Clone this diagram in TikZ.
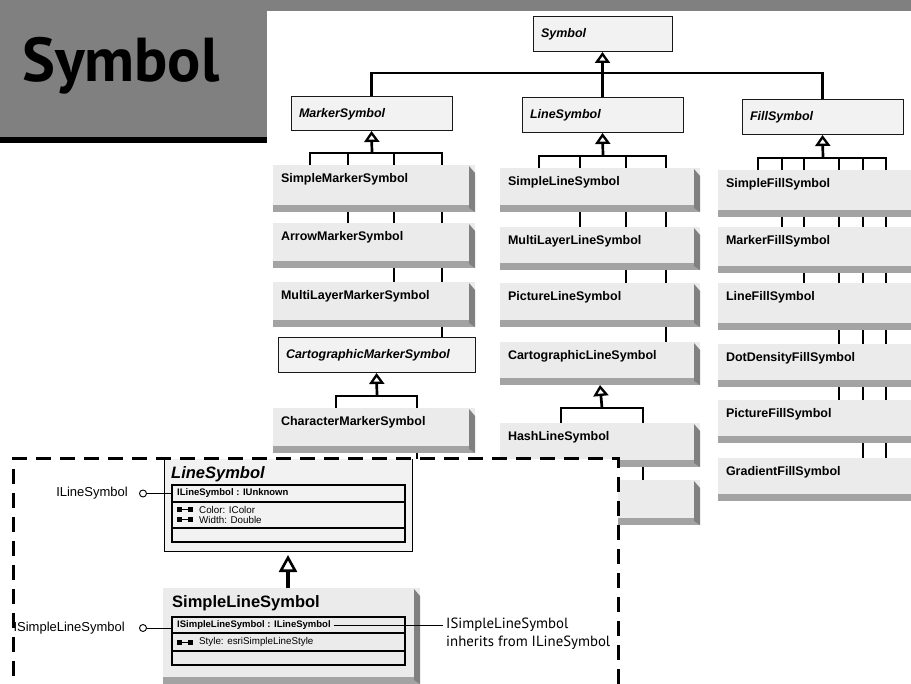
\documentclass[tikz,border=0pt]{standalone}
\usepackage{fontspec}
\setmainfont{Liberation Sans}
\newfontfamily\ptsans{PT Sans}
\usetikzlibrary{arrows.meta}
\pgfdeclarelayer{wires}
\pgfsetlayers{wires,main}
\definecolor{face}{gray}{0.92}
\definecolor{absface}{gray}{0.95}
\definecolor{bottomface}{gray}{0.64}
\definecolor{sideface}{gray}{0.50}
\definecolor{panel}{gray}{0.50}

\tikzset{
  tree/.style={line width=2.7pt, line cap=rect},
  inh/.style={line width=2.7pt, -{Triangle[open, length=11pt, width=15pt, line width=2.3pt]}},
  shade3d/.style={path picture={
      \fill[bottomface] ([yshift=7pt]path picture bounding box.south west)
        rectangle (path picture bounding box.south east);
      \fill[sideface] ([xshift=-6pt,yshift=-1pt]path picture bounding box.north east)
        -- ([yshift=-8pt]path picture bounding box.north east)
        -- (path picture bounding box.south east)
        -- ([xshift=-6pt,yshift=4pt]path picture bounding box.south east) -- cycle;
  }},
  cbox/.style={shade3d, fill=face, anchor=north west, outer sep=0pt,
    inner xsep=8pt, inner ysep=0pt, text height=17.5pt, text depth=27.5pt,
    align=left, font=\bfseries\fontsize{12.5}{14}\selectfont},
  abox/.style={draw=black!90, line width=1pt, fill=absface, anchor=north west,
    outer sep=0pt, inner xsep=8pt, inner ysep=0pt, minimum height=35pt,
    align=left, font=\bfseries\itshape\fontsize{12.5}{14}\selectfont},
  mcol/.style={cbox, text width=186pt},
  lcol/.style={cbox, text width=184pt},
  fcol/.style={cbox, text width=204pt},
  thin/.style={line width=1.1pt},
  hdr/.style={anchor=west, inner sep=0pt, font=\bfseries\fontsize{9.5}{11}\selectfont},
  prop/.style={anchor=west, inner sep=0pt, font=\fontsize{9.8}{11}\selectfont},
  lolly/.style={circle, draw, line width=0.9pt, fill=white, minimum size=7pt, inner sep=0pt},
  lollytext/.style={anchor=east, inner sep=0pt, font=\fontsize{13}{15}\selectfont},
  regionborder/.style={line width=3pt, dash pattern=on 15pt off 9pt},
  propicon/.pic={
    \fill (0,-2.5) rectangle (5,2.5);
    \fill (11,-2.5) rectangle (16,2.5);
    \draw[line width=1pt] (5,0) -- (11,0);
  },
}

\begin{document}
\begin{tikzpicture}[x=1pt,y=-1pt]
\useasboundingbox (0,0) rectangle (911,684);
\clip (0,0) rectangle (911,684);

% header panel
\fill[panel] (0,0) rectangle (911,11);
\fill[panel] (0,0) rectangle (267,137);
\fill[black] (0,137) rectangle (267,143);
\node[anchor=base west, inner sep=0pt, font=\ptsans\bfseries\fontsize{62}{64}\selectfont] (title) at (22,82) {Symbol};

% abstract classes
\node[abox, text width=123pt] (sym) at (533,17) {Symbol};
\node[abox, text width=145pt, minimum height=34pt] (msym) at (291,97) {MarkerSymbol};
\node[abox, text width=145pt] (lsym) at (522,98) {LineSymbol};
\node[abox, text width=145pt] (fsym) at (742,100) {FillSymbol};
\node[abox, text width=181pt] (cms) at (278,338) {CartographicMarkerSymbol};

% marker symbols
\node[mcol, text depth=29.5pt] (smk) at (273,165) {SimpleMarkerSymbol};
\node[mcol] (amk) at (273,223) {ArrowMarkerSymbol};
\node[mcol] (mlm) at (273,282) {MultiLayerMarkerSymbol};
\node[mcol] (chm) at (273,408) {CharacterMarkerSymbol};

% line symbols
\node[lcol, text depth=26.5pt] (sls) at (500,168) {SimpleLineSymbol};
\node[lcol, text depth=25.5pt] (mll) at (500,227) {MultiLayerLineSymbol};
\node[lcol, text depth=26.5pt] (pls) at (500,283) {PictureLineSymbol};
\node[lcol, text depth=25.5pt] (cls) at (500,342) {CartographicLineSymbol};
\node[lcol, text depth=26.5pt] (hls) at (500,423) {HashLineSymbol};
\node[lcol] (lx) at (500,480) {};

% fill symbols
\node[fcol, text depth=29.5pt] (sfs) at (718,170) {SimpleFillSymbol};
\node[fcol, text depth=28.5pt] (mfs) at (718,227) {MarkerFillSymbol};
\node[fcol, text depth=29.5pt] (lfs) at (718,283) {LineFillSymbol};
\node[fcol, text depth=25.5pt] (dfs) at (718,344) {DotDensityFillSymbol};
\node[fcol, text depth=25.5pt] (pfs) at (718,400) {PictureFillSymbol};
\node[fcol, text depth=25.5pt] (gfs) at (718,458) {GradientFillSymbol};

\coordinate (cmx) at (417,470);

% inheritance trees
\begin{pgfonlayer}{wires}
  \draw[inh] (lsym.north) -- (sym.south);
  \draw[tree] (msym.north) |- (603,73) -| (fsym.north);

  \draw[inh] (372,153) -- (msym.south);
  \draw[tree] (310,153) -- (442,153);
  \foreach \x/\n in {310/smk,348/amk,394/mlm,442/cms}
    \draw[tree] (\x,153) -- (\x,0 |- \n.north);

  \draw[inh] (603,156) -- (lsym.south);
  \draw[tree] (539,156) -- (666,156);
  \foreach \x/\n in {539/sls,580/mll,626/pls,666/cls}
    \draw[tree] (\x,156) -- (\x,0 |- \n.north);

  \draw[inh] (823,158) -- (fsym.south);
  \draw[tree] (758,158) -- (886,158);
  \foreach \x/\n in {758/sfs,782/mfs,804/lfs,839/pfs,863/gfs,886/gfs}
    \draw[tree] (\x,158) -- (\x,0 |- \n.north);

  \draw[inh] (377,396) -- (cms.south);
  \draw[tree] (336,396) -- (417,396);
  \draw[tree] (336,396) -- (336,0 |- chm.north);
  \draw[tree] (417,396) -- (cmx);

  \draw[inh] (602,408) -- (cls.south);
  \draw[tree] (561,408) -- (643,408);
  \draw[tree] (561,408) -- (561,0 |- hls.north);
  \draw[tree] (643,408) -- (643,0 |- lx.north);
\end{pgfonlayer}

% detail region
\fill[white] (13,459) rectangle (618,700);

% LineSymbol abstract class
\node[fill=absface, anchor=north west, inner sep=0pt, outer sep=0pt,
      minimum width=248pt, minimum height=93pt] (lsc) at (164,459) {};
\draw[line width=1pt] (lsc.north west) |- (lsc.south east) -- (lsc.north east);
\node[anchor=west, inner sep=0pt, font=\bfseries\itshape\fontsize{16.5}{18}\selectfont] (lsct) at (171,474) {LineSymbol};
\node[draw, thin, anchor=north west, inner sep=0pt, outer sep=0pt,
      minimum width=233pt, minimum height=57pt] (lsci) at (172,485) {};
\draw[thin] ([yshift=-17pt]lsci.north west) -- ([yshift=-17pt]lsci.north east);
\draw[thin] ([yshift=14pt]lsci.south west) -- ([yshift=14pt]lsci.south east);
\node[hdr] (lsh) at (177,493.5) {ILineSymbol : IUnknown};
\pic at (177,510) {propicon};
\node[prop] (lsp1) at (199,510) {Color: IColor};
\pic at (177,519.5) {propicon};
\node[prop] (lsp2) at (199,519.5) {Width: Double};
\node[lolly] (ilo) at (143,493.5) {};
\draw[line width=0.9pt] (ilo) -- (ilo -| lsci.west);
\node[lollytext] (ilt) at (128,493.5) {ILineSymbol};

% SimpleLineSymbol class
\node[shade3d, fill=face, anchor=north west, inner sep=0pt, outer sep=0pt,
      minimum width=257pt, minimum height=96pt] (slc) at (163,588) {};
\draw[line width=4pt, shorten >=3pt, -{Triangle[open, length=17pt, width=18pt, line width=2.6pt]}]
  (lsc.south |- slc.north) -- (lsc.south);
\node[anchor=west, inner sep=0pt, font=\bfseries\fontsize{16.5}{18}\selectfont] (slct) at (172,603) {SimpleLineSymbol};
\node[draw, thin, anchor=north west, inner sep=0pt, outer sep=0pt,
      minimum width=233pt, minimum height=48pt] (slci) at (172,617) {};
\draw[thin] ([yshift=-16pt]slci.north west) -- ([yshift=-16pt]slci.north east);
\draw[thin] ([yshift=14pt]slci.south west) -- ([yshift=14pt]slci.south east);
\node[hdr] (slh) at (177,625) {ISimpleLineSymbol : ILineSymbol};
\pic at (177,642) {propicon};
\node[prop] (slp1) at (199,642) {Style: esriSimpleLineStyle};
\node[lolly] (islo) at (143,628) {};
\draw[line width=0.9pt] (islo) -- (islo -| slci.west);
\node[lollytext] (islt) at (125,628) {ISimpleLineSymbol};

\node[anchor=north west, inner sep=0pt, align=left,
      font=\ptsans\fontsize{14.8}{18}\selectfont] (ann) at (446,618) {ISimpleLineSymbol\\inherits from ILineSymbol};
\draw[line width=1pt] ([xshift=3pt]slh.east) -- ([xshift=-3pt]slh.east -| ann.west);

% region outline
\draw[regionborder] (13,700) -- (13,459) -- (618,459) -- (618,700);
\end{tikzpicture}
\end{document}
